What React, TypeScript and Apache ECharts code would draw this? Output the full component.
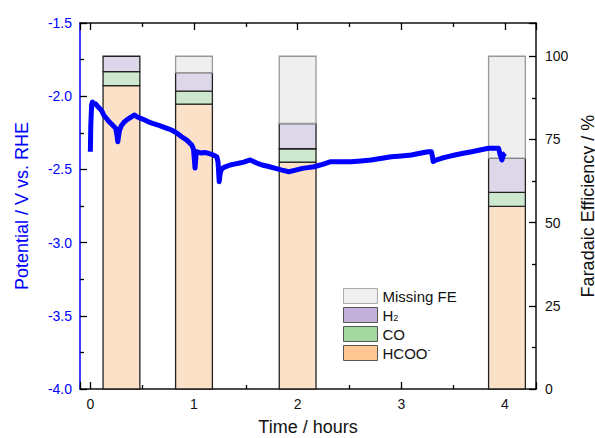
import React, { useEffect, useRef } from "react";
import * as echarts from "echarts";

// Potential vs time (hours, V vs RHE)
const hours = [0.0, 0.004, 0.012, 0.02, 0.035, 0.05, 0.07, 0.087, 0.11, 0.13, 0.152, 0.175, 0.204, 0.225, 0.243, 0.255, 0.265, 0.275, 0.282, 0.30, 0.33, 0.355, 0.379, 0.40, 0.427, 0.45, 0.476, 0.50, 0.524, 0.56, 0.60, 0.653, 0.70, 0.74, 0.783, 0.83, 0.881, 0.93, 0.978, 0.995, 1.01, 1.02, 1.026, 1.05, 1.075, 1.10, 1.139, 1.18, 1.22, 1.232, 1.243, 1.252, 1.262, 1.28, 1.301, 1.35, 1.40, 1.43, 1.48, 1.52, 1.544, 1.60, 1.657, 1.72, 1.786, 1.85, 1.916, 1.98, 2.046, 2.10, 2.158, 2.24, 2.32, 2.42, 2.515, 2.61, 2.709, 2.80, 2.903, 3.00, 3.097, 3.18, 3.259, 3.291, 3.30, 3.308, 3.34, 3.388, 3.45, 3.517, 3.60, 3.68, 3.76, 3.842, 3.90, 3.939, 3.955, 3.971, 3.985, 4.003];
const potential = [-2.38, -2.2, -2.06, -2.04, -2.05, -2.053, -2.07, -2.081, -2.10, -2.13, -2.149, -2.17, -2.19, -2.205, -2.217, -2.26, -2.311, -2.26, -2.231, -2.2, -2.174, -2.16, -2.149, -2.14, -2.128, -2.14, -2.149, -2.155, -2.163, -2.175, -2.185, -2.197, -2.21, -2.22, -2.231, -2.25, -2.277, -2.30, -2.333, -2.36, -2.49, -2.40, -2.379, -2.385, -2.388, -2.385, -2.39, -2.40, -2.413, -2.45, -2.584, -2.53, -2.504, -2.49, -2.482, -2.47, -2.462, -2.458, -2.45, -2.44, -2.436, -2.455, -2.47, -2.48, -2.493, -2.505, -2.516, -2.505, -2.493, -2.488, -2.482, -2.465, -2.447, -2.447, -2.447, -2.442, -2.436, -2.425, -2.413, -2.408, -2.402, -2.39, -2.379, -2.379, -2.41, -2.447, -2.435, -2.424, -2.413, -2.402, -2.39, -2.379, -2.368, -2.356, -2.356, -2.356, -2.40, -2.436, -2.40, -2.39];

// Faradaic efficiency bars (%)
const feHours = [0.3, 1.0, 2.0, 4.02];
const feHCOO = [91.2, 85.6, 68.2, 54.9];
const feCO = [4.2, 3.9, 4.0, 4.2];
const feH2 = [4.6, 5.6, 7.6, 10.3];
const feMissing = [0.0, 4.9, 20.2, 30.6];

const BLUE = "#0000ff";
const INK = "#111111";
const FONT = "Liberation Sans, Arial, sans-serif";
const BAR_W = 0.355;

export default function App() {
  const ref = useRef<HTMLDivElement>(null);
  useEffect(() => {
    if (!ref.current) return;
    const chart = echarts.init(ref.current, undefined, { renderer: "svg" });

    const layers = [
      { name: "HCOO-", vals: feHCOO, fill: "#fce1c9", stroke: "#222", legend: "#fdc794", lborder: "#555" },
      { name: "CO", vals: feCO, fill: "#cde8ce", stroke: "#222", legend: "#a5d8a1", lborder: "#555" },
      { name: "H2", vals: feH2, fill: "#ded7e9", stroke: "#222", legend: "#c2b0db", lborder: "#555" },
      { name: "Missing FE", vals: feMissing, fill: "#efefef", stroke: "#999", legend: "#efefef", lborder: "#aaa" },
    ];
    const base = feHours.map(() => 0);
    const barSeries = layers.map((L) => {
      const data: number[][] = [];
      feHours.forEach((h, i) => {
        const lo = base[i];
        const hi = lo + L.vals[i];
        base[i] = hi;
        if (hi > lo) data.push([h, lo, hi]);
      });
      return {
        type: "custom",
        name: L.name,
        xAxisIndex: 0,
        yAxisIndex: 1,
        z: 2,
        itemStyle: { color: L.legend, borderColor: L.lborder },
        data,
        renderItem: (params: any, api: any) => {
          const x = api.value(0);
          const p0 = api.coord([x, api.value(1)]);
          const p1 = api.coord([x, api.value(2)]);
          const w = api.size([BAR_W, 0])[0];
          return {
            type: "rect",
            shape: { x: p0[0] - w / 2, y: p1[1], width: w, height: p0[1] - p1[1] },
            style: { fill: L.fill, stroke: L.stroke, lineWidth: 1.3 },
          };
        },
      };
    });

    const lineData = hours.map((h, i) => [h, potential[i]]);

    const option: any = {
      animation: false,
      textStyle: { fontFamily: FONT },
      grid: { left: 80, right: 59, top: 23, bottom: 49, outerBoundsMode: "none", containLabel: false },
      legend: {
        orient: "vertical",
        left: 338,
        top: 283,
        itemWidth: 34,
        itemHeight: 15,
        itemGap: 3,
        icon: "rect",
        selectedMode: false,
        textStyle: {
          fontFamily: FONT,
          fontSize: 15,
          color: INK,
          rich: {
            n: { fontSize: 15, color: INK },
            sub: { fontSize: 9, color: INK, verticalAlign: "bottom" },
            sup: { fontSize: 9, color: INK, verticalAlign: "top" },
          },
        },
        formatter: (name: string) => {
          if (name === "H2") return "{n|H}{sub|2}";
          if (name === "HCOO-") return "{n|HCOO}{sup|-}";
          return "{n|" + name + "}";
        },
        data: [...layers].reverse().map((L) => ({
          name: L.name,
          itemStyle: { color: L.legend, borderColor: L.lborder, borderWidth: 1 },
        })),
      },
      xAxis: [
        {
          type: "value",
          min: -0.1,
          max: 4.3,
          splitNumber: 5,
          name: "Time / hours",
          nameLocation: "middle",
          nameGap: 29,
          nameTextStyle: { fontSize: 18, color: INK, fontFamily: FONT },
          axisLine: { show: true, onZero: false, lineStyle: { color: INK, width: 1.5 } },
          axisTick: { show: true, inside: true, length: 7, lineStyle: { color: "#000", width: 1.3 } },
          minorTick: { show: true, splitNumber: 2, length: 4, lineStyle: { color: "#000", width: 1.3 } },
          axisLabel: { show: true, fontSize: 14, color: INK, margin: 8, showMinLabel: false, showMaxLabel: false, hideOverlap: false },
          splitLine: { show: false },
        },
        {
          type: "value",
          position: "top",
          min: -0.1,
          max: 4.3,
          splitNumber: 5,
          axisLine: { show: true, onZero: false, lineStyle: { color: INK, width: 1.5 } },
          axisTick: { show: true, inside: true, length: 7, lineStyle: { color: "#000", width: 1.3 } },
          minorTick: { show: true, splitNumber: 2, length: 4, lineStyle: { color: "#000", width: 1.3 } },
          axisLabel: { show: false },
          splitLine: { show: false },
        },
      ],
      yAxis: [
        {
          type: "value",
          position: "left",
          min: -4.0,
          max: -1.5,
          interval: 0.5,
          name: "Potential / V vs. RHE",
          nameLocation: "middle",
          nameGap: 49,
          nameTextStyle: { fontSize: 18, color: BLUE, fontFamily: FONT },
          axisLine: { show: true, onZero: false, lineStyle: { color: BLUE, width: 1.5 } },
          axisTick: { show: true, inside: true, length: 7, lineStyle: { color: "#000", width: 1.3 } },
          minorTick: { show: true, splitNumber: 2, length: 4, lineStyle: { color: "#000", width: 1.3 } },
          axisLabel: { fontSize: 14, color: BLUE, margin: 8, formatter: (v: number) => v.toFixed(1) },
          splitLine: { show: false },
        },
        {
          type: "value",
          position: "right",
          min: 0,
          max: 110,
          interval: 25,
          name: "Faradaic Efficiency / %",
          nameLocation: "middle",
          nameGap: 39,
          nameTextStyle: { fontSize: 18, color: INK, fontFamily: FONT },
          axisLine: { show: true, onZero: false, lineStyle: { color: INK, width: 1.5 } },
          axisTick: { show: true, inside: true, length: 7, lineStyle: { color: "#000", width: 1.3 } },
          minorTick: { show: true, splitNumber: 2, length: 4, lineStyle: { color: "#000", width: 1.3 } },
          axisLabel: { fontSize: 14, color: INK, margin: 9, showMaxLabel: false },
          splitLine: { show: false },
        },
      ],
      series: [
        ...barSeries,
        {
          type: "line",
          name: "Potential",
          xAxisIndex: 0,
          yAxisIndex: 0,
          z: 5,
          data: lineData,
          showSymbol: false,
          symbol: "none",
          lineStyle: { color: BLUE, width: 5, join: "round" },
          itemStyle: { color: BLUE },
        },
      ],
    };
    chart.setOption(option);
    return () => chart.dispose();
  }, []);
  return (
    <div
      ref={ref}
      style={{ position: "absolute", left: 0, top: 0, width: 595, height: 438, background: "#fff" }}
    />
  );
}
